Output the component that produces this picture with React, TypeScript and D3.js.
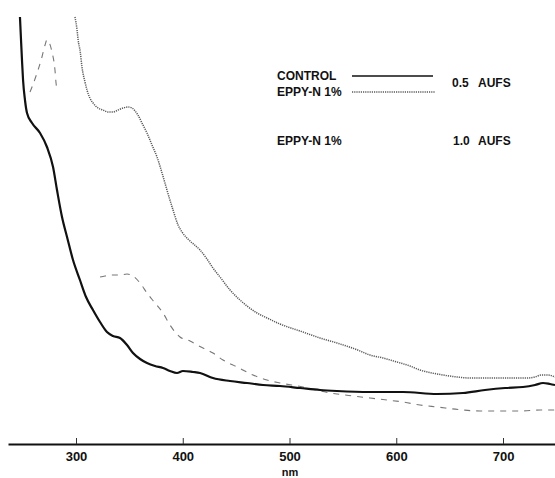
import React, { useEffect, useRef } from "react";
import * as d3 from "d3";

// Wavelength (nm) and relative absorbance
const controlWl = [247.5, 248.5, 249.4, 250.4, 252.2, 254.1, 258.8, 266.3, 272.8, 278.5, 282.2, 286.9, 291.6, 297.2, 303.7, 309.4, 315.9, 322.5, 329, 334.7, 341.2, 347.8, 353.4, 360, 366.5, 374, 381.5, 388, 394.6, 400.2, 409.6, 416.2, 428.3, 444.3, 460.2, 475.2, 491.1, 509.8, 528.6, 544.5, 575.4, 606.3, 638.2, 662.5, 683.1, 701.9, 718.7, 730, 737.5, 744, 748.7];
const controlAbs = [2.135, 2.02, 1.92, 1.82, 1.72, 1.655, 1.605, 1.555, 1.485, 1.385, 1.27, 1.135, 1.035, 0.92, 0.82, 0.735, 0.67, 0.61, 0.56, 0.54, 0.53, 0.495, 0.455, 0.425, 0.405, 0.39, 0.38, 0.365, 0.355, 0.365, 0.36, 0.355, 0.33, 0.315, 0.305, 0.295, 0.29, 0.28, 0.27, 0.265, 0.26, 0.26, 0.25, 0.255, 0.27, 0.28, 0.285, 0.295, 0.305, 0.3, 0.295];

const eppy05Wl = [299, 301, 302, 304, 305.6, 308.4, 310.3, 313, 316, 320.6, 325.3, 330, 334.7, 339.3, 344, 348.7, 352.5, 355.3, 358, 361.8, 366.5, 371.2, 375.9, 380.6, 385.2, 390.9, 395.6, 399.3, 406.8, 416.2, 422.7, 428.3, 434.9, 444.3, 453.6, 460.2, 469.6, 479, 491.1, 512.6, 528.6, 544.5, 561.4, 575.4, 587.6, 600.7, 612.9, 622.2, 633.5, 643.8, 656.9, 668.6, 687.4, 706.6, 722.5, 730, 735.6, 742.2, 748.7];
const eppy05Abs = [2.135, 2.07, 2.02, 1.96, 1.885, 1.81, 1.77, 1.73, 1.705, 1.68, 1.67, 1.66, 1.66, 1.67, 1.68, 1.685, 1.68, 1.665, 1.645, 1.605, 1.555, 1.495, 1.435, 1.355, 1.27, 1.17, 1.095, 1.06, 1.015, 0.97, 0.925, 0.88, 0.835, 0.77, 0.72, 0.69, 0.655, 0.63, 0.6, 0.56, 0.53, 0.505, 0.475, 0.445, 0.43, 0.41, 0.39, 0.37, 0.355, 0.345, 0.335, 0.33, 0.33, 0.33, 0.33, 0.335, 0.345, 0.345, 0.335];

// 1.0 AUFS trace: short peak near 270 nm, then (after a faint, unseen stretch) the main trace
const eppy10PeakWl = [256.9, 258.8, 263.5, 268.1, 271, 272.8, 274.7, 277.5, 280.3, 281.3, 282.2];
const eppy10PeakAbs = [1.76, 1.785, 1.855, 1.935, 1.995, 2.02, 2.01, 1.96, 1.87, 1.805, 1.77];
const eppy10Wl = [322.5, 327.2, 333.7, 341.2, 347.8, 353.4, 360, 366.5, 374, 381.5, 388, 397.4, 406.8, 413.3, 428.3, 437.7, 450.8, 465.8, 478.9, 491.1, 512.6, 528.6, 544.5, 559.5, 575.4, 591.3, 606.3, 622.2, 638.2, 662.5, 678.5, 697.2, 715.9, 734.7, 748.7];
const eppy10Abs = [0.835, 0.84, 0.845, 0.845, 0.85, 0.84, 0.805, 0.755, 0.705, 0.655, 0.595, 0.535, 0.515, 0.495, 0.455, 0.42, 0.385, 0.345, 0.32, 0.305, 0.285, 0.265, 0.25, 0.24, 0.23, 0.22, 0.21, 0.195, 0.185, 0.17, 0.165, 0.165, 0.165, 0.17, 0.17];

const xTicks = [300, 400, 500, 600, 700];

const W = 555;
const H = 478;

export default function App() {
  const ref = useRef<SVGSVGElement | null>(null);

  useEffect(() => {
    const svg = d3.select(ref.current);
    svg.selectAll("*").remove();

    const x = d3.scaleLinear().domain([236.3, 748.7]).range([8, 555]);
    const y = d3.scaleLinear().domain([0, 2]).range([444, 44]);

    const zip = (a: number[], b: number[]) => a.map((v, i) => [v, b[i]] as [number, number]);
    const line = d3
      .line<[number, number]>()
      .x((d) => x(d[0]))
      .y((d) => y(d[1]))
      .curve(d3.curveMonotoneX);

    const font = "'Liberation Sans', Arial, sans-serif";

    // axis
    const axis = d3
      .axisBottom(x)
      .tickValues(xTicks)
      .tickSizeInner(-6)
      .tickSizeOuter(0)
      .tickPadding(8)
      .tickFormat((d) => String(d));
    const g = svg.append("g").attr("transform", `translate(0,444)`).call(axis);
    g.select(".domain").attr("stroke", "#111").attr("stroke-width", 2);
    g.selectAll(".tick line").attr("stroke", "#333").attr("stroke-width", 1);
    g.selectAll(".tick text")
      .attr("fill", "#111")
      .attr("font-family", font)
      .attr("font-weight", "bold")
      .attr("font-size", 13);

    svg
      .append("text")
      .attr("x", 290)
      .attr("y", 476)
      .attr("text-anchor", "middle")
      .attr("font-family", font)
      .attr("font-weight", "bold")
      .attr("font-size", 11)
      .attr("fill", "#111")
      .text("nm");

    // dashed 1.0 AUFS
    [zip(eppy10PeakWl, eppy10PeakAbs), zip(eppy10Wl, eppy10Abs)].forEach((pts) => {
      svg
        .append("path")
        .attr("d", line(pts))
        .attr("fill", "none")
        .attr("stroke", "#777")
        .attr("stroke-width", 1.1)
        .attr("stroke-dasharray", "6,6");
    });

    // dotted 0.5 AUFS
    svg
      .append("path")
      .attr("d", line(zip(eppy05Wl, eppy05Abs)))
      .attr("fill", "none")
      .attr("stroke", "#5a5a5a")
      .attr("stroke-width", 1.5)
      .attr("stroke-dasharray", "1.2,1");

    // control
    svg
      .append("path")
      .attr("d", line(zip(controlWl, controlAbs)))
      .attr("fill", "none")
      .attr("stroke", "#111")
      .attr("stroke-width", 2.2);

    // legend
    const leg = svg.append("g").attr("font-family", font).attr("font-weight", "bold").attr("font-size", 12).attr("fill", "#111");
    leg.append("text").attr("x", 277).attr("y", 80).text("CONTROL");
    leg.append("text").attr("x", 277).attr("y", 96).text("EPPY-N 1%");
    leg.append("text").attr("x", 277).attr("y", 145).text("EPPY-N 1%");
    const t1 = leg.append("text").attr("x", 452).attr("y", 87);
    t1.append("tspan").text("0.5");
    t1.append("tspan").attr("x", 478).text("AUFS");
    const t2 = leg.append("text").attr("x", 453).attr("y", 145);
    t2.append("tspan").text("1.0");
    t2.append("tspan").attr("x", 478).text("AUFS");

    svg
      .append("line")
      .attr("x1", 352)
      .attr("x2", 433)
      .attr("y1", 76)
      .attr("y2", 76)
      .attr("stroke", "#111")
      .attr("stroke-width", 1.6);
    svg
      .append("line")
      .attr("x1", 352)
      .attr("x2", 435)
      .attr("y1", 92)
      .attr("y2", 92)
      .attr("stroke", "#5a5a5a")
      .attr("stroke-width", 1.3)
      .attr("stroke-dasharray", "1.2,1");
  }, []);

  return (
    <svg
      ref={ref}
      width={W}
      height={H}
      style={{ position: "absolute", left: 0, top: 0, background: "#fff" }}
    />
  );
}
